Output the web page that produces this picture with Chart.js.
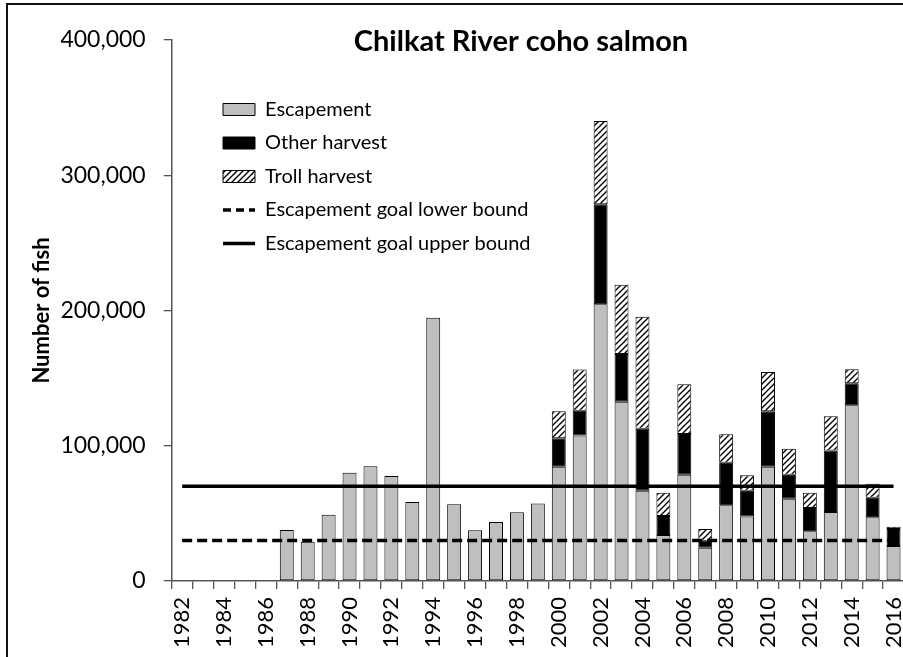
<!DOCTYPE html>
<html>
<head>
<meta charset="utf-8">
<script src="https://cdn.jsdelivr.net/npm/chart.js@4.4.1/dist/chart.umd.min.js"></script>
<style>
  html, body { margin: 0; padding: 0; background: #fff; }
  #wrap { position: relative; width: 903px; height: 657px; overflow: hidden; }
  #fishChart { position: absolute; left: 0; top: 0; }
  #frame { position: absolute; left: 6px; top: 3px; width: 1000px; height: 1000px;
           border-left: 2px solid #111; border-top: 2px solid #111; pointer-events: none; }
</style>
</head>
<body>
<div id="wrap">
  <canvas id="fishChart" width="904" height="657"></canvas>
  <div id="frame"></div>
</div>
<script>
const years = ['1982','1983','1984','1985','1986','1987','1988','1989','1990','1991',
  '1992','1993','1994','1995','1996','1997','1998','1999','2000','2001',
  '2002','2003','2004','2005','2006','2007','2008','2009','2010','2011',
  '2012','2013','2014','2015','2016'];

const escapement = [null, null, null, null, null, 37700, 29100, 49000, 80100, 84800,
  77600, 58400, 194700, 56700, 37500, 43600, 50800, 57300, 84500, 107500,
  204600, 132600, 66800, 34000, 78600, 24600, 56000, 47600, 84500, 60900,
  36700, 51000, 129900, 47100, 25900];

const otherHarvest = [null, null, null, null, null, null, null, null, null, null,
  null, null, null, null, null, null, null, null, 21000, 18400,
  73900, 35200, 45800, 14100, 30100, 5200, 31500, 19200, 41000, 17700,
  17300, 45400, 16300, 14500, 12500];

const trollHarvest = [null, null, null, null, null, null, null, null, null, null,
  null, null, null, null, null, null, null, null, 20000, 30400,
  61600, 51300, 82800, 17200, 36700, 8600, 21000, 11300, 29000, 19200,
  11300, 25400, 10300, 10300, 1800];

const goalLower = [30000, 30000, 30000, 30000, 30000, 30000, 30000, 30000, 30000, 30000,
  30000, 30000, 30000, 30000, 30000, 30000, 30000, 30000, 30000, 30000,
  30000, 30000, 30000, 30000, 30000, 30000, 30000, 30000, 30000, 30000,
  30000, 30000, 30000, 30000, 30000];

const goalUpper = [70000, 70000, 70000, 70000, 70000, 70000, 70000, 70000, 70000, 70000,
  70000, 70000, 70000, 70000, 70000, 70000, 70000, 70000, 70000, 70000,
  70000, 70000, 70000, 70000, 70000, 70000, 70000, 70000, 70000, 70000,
  70000, 70000, 70000, 70000, 70000];

const yTicks = [0, 100000, 200000, 300000, 400000];

const font = 'Lato';

// diagonal hatch for the troll harvest
function makeHatch() {
    const c = document.createElement('canvas');
    c.width = 6;
    c.height = 6;
    const g = c.getContext('2d');
    g.fillStyle = '#fff';
    g.fillRect(0, 0, 6, 6);
    g.strokeStyle = '#000';
    g.lineWidth = 1.4;
    g.beginPath();
    g.moveTo(-1, 7); g.lineTo(7, -1);
    g.moveTo(-1, 1); g.lineTo(1, -1);
    g.moveTo(5, 7); g.lineTo(7, 5);
    g.stroke();
    return g.createPattern(c, 'repeat');
}
const hatch = makeHatch();

// put title and legend where the original has them
const placeBoxes = {
    id: 'placeBoxes',
    afterLayout(chart) {
        const t = chart.titleBlock;
        t.top += 19;
        t.bottom += 19;
        t.left = 521 - 250;
        t.right = 521 + 250;
        const lg = chart.legend;
        const dx = 209.5 - lg.left;
        const dy = 86 - lg.top;
        lg.left += dx; lg.right += dx;
        lg.top += dy; lg.bottom += dy;
    }
};

const barBase = {
    type: 'bar',
    stack: 'fish',
    borderColor: '#000',
    borderWidth: 1,
    borderSkipped: false,
    barPercentage: 0.667,
    categoryPercentage: 1
};

new Chart(document.getElementById('fishChart'), {
    data: {
        labels: years,
        datasets: [
            Object.assign({}, barBase, { label: 'Escapement', data: escapement, backgroundColor: '#bfbfbf' }),
            Object.assign({}, barBase, { label: 'Other harvest', data: otherHarvest, backgroundColor: '#000' }),
            Object.assign({}, barBase, { label: 'Troll harvest', data: trollHarvest, backgroundColor: hatch }),
            {
                type: 'line', label: 'Escapement goal lower bound', data: goalLower, stack: 'lo',
                borderColor: '#000', borderWidth: 3.5, borderDash: [10, 5], pointRadius: 0, order: -1
            },
            {
                type: 'line', label: 'Escapement goal upper bound', data: goalUpper, stack: 'hi',
                borderColor: '#000', borderWidth: 3.5, pointRadius: 0, order: -1
            }
        ]
    },
    options: {
        responsive: false,
        animation: false,
        devicePixelRatio: 1,
        layout: { padding: { top: 5.2, left: 0, right: 0, bottom: 0 } },
        plugins: {
            tooltip: { enabled: false },
            title: {
                display: true,
                text: 'Chilkat River coho salmon',
                color: '#000',
                padding: 0,
                font: { family: font, size: 29, weight: 'bold', lineHeight: 1.2 }
            },
            legend: {
                position: 'chartArea',
                align: 'start',
                labels: {
                    color: '#000',
                    font: { family: font, size: 20 },
                    usePointStyle: true,
                    pointStyleWidth: 32,
                    boxWidth: 32,
                    boxHeight: 12,
                    padding: 13.5,
                    generateLabels(chart) {
                        const items = Chart.defaults.plugins.legend.labels.generateLabels(chart);
                        items.forEach(it => {
                            const ds = chart.data.datasets[it.datasetIndex];
                            if (ds.type === 'line') {
                                it.pointStyle = 'line';
                                it.lineWidth = 3.5;
                                it.lineDash = [8, 5];
                                if (!ds.borderDash) it.lineDash = [];
                                it.strokeStyle = '#000';
                            } else {
                                it.pointStyle = 'rect';
                                it.lineWidth = 1;
                                it.strokeStyle = '#000';
                            }
                        });
                        return items.sort((a, b) => a.datasetIndex - b.datasetIndex);
                    }
                }
            }
        },
        scales: {
            x: {
                stacked: true,
                offset: true,
                grid: { offset: true, drawOnChartArea: false, drawTicks: true, tickLength: 8, color: '#555', lineWidth: 1.3 },
                border: { display: true, color: '#555', width: 1.5 },
                ticks: {
                    autoSkip: false,
                    minRotation: 90,
                    maxRotation: 90,
                    padding: 8,
                    color: '#000',
                    font: { family: font, size: 22 },
                    callback: (v, i) => (i % 2 === 0 ? years[i] : '')
                },
                afterFit(scale) {
                    scale.height = 76;
                    scale.paddingLeft = 0;
                    scale.paddingRight = 0;
                }
            },
            y: {
                stacked: true,
                min: 0,
                max: 400000,
                afterBuildTicks(scale) {
                    scale.ticks = yTicks.map(v => ({ value: v }));
                },
                grid: { drawOnChartArea: false, drawTicks: true, tickLength: 8, color: '#555', lineWidth: 1.3 },
                border: { display: true, color: '#555', width: 1.5 },
                ticks: {
                    padding: 18,
                    color: '#000',
                    font: { family: font, size: 23 },
                    callback: v => v.toLocaleString('en-US')
                },
                title: {
                    display: true,
                    text: 'Number of fish',
                    color: '#000',
                    padding: { top: 29, bottom: 0 },
                    font: { family: font, size: 22, weight: 'bold' }
                },
                afterFit(scale) {
                    scale.width = 171.7;
                }
            }
        }
    },
    plugins: [placeBoxes]
});
</script>
</body>
</html>
